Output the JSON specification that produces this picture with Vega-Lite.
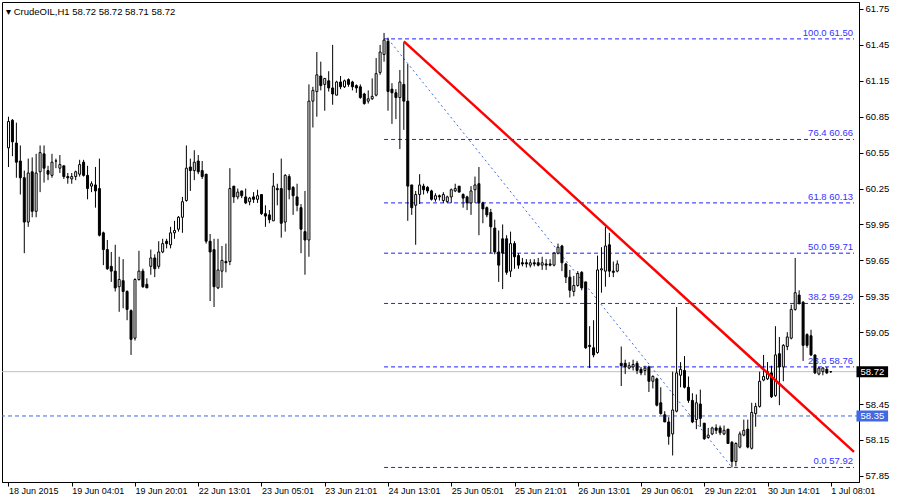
{
"$schema": "https://vega.github.io/schema/vega-lite/v6.json",
"width": 857, "height": 480,
"autosize": {"type": "none"},
"padding": {"left": 2, "top": 2, "right": 41, "bottom": 18},
"background": "white",
"title": {"text": "▾ CrudeOIL,H1  58.72 58.72 58.71 58.72", "anchor": "start", "frame": "group", "orient": "top", "offset": -22, "baseline": "alphabetic", "dx": 4, "font": "Liberation Sans", "fontSize": 9.5, "fontWeight": "normal", "color": "black"},
"datasets": {
"bars": [
{"i":0,"o":60.59,"h":60.85,"l":60.43,"c":60.81},{"i":1,"o":60.82,"h":60.83,"l":60.52,"c":60.64},{"i":2,"o":60.63,"h":60.80,"l":60.34,"c":60.47},{"i":3,"o":60.48,"h":60.61,"l":60.20,"c":60.34},{"i":4,"o":60.34,"h":60.40,"l":59.71,"c":59.97},{"i":5,"o":59.97,"h":60.50,"l":59.93,"c":60.38},{"i":6,"o":60.39,"h":60.51,"l":60.01,"c":60.06},{"i":7,"o":60.06,"h":60.54,"l":60.01,"c":60.38},{"i":8,"o":60.39,"h":60.61,"l":60.22,"c":60.55},{"i":9,"o":60.54,"h":60.61,"l":60.30,"c":60.42},
{"i":10,"o":60.40,"h":60.44,"l":60.32,"c":60.37},{"i":11,"o":60.36,"h":60.54,"l":60.34,"c":60.47},{"i":12,"o":60.48,"h":60.50,"l":60.42,"c":60.48},{"i":13,"o":60.42,"h":60.53,"l":60.38,"c":60.45},{"i":14,"o":60.44,"h":60.44,"l":60.33,"c":60.35},{"i":15,"o":60.35,"h":60.38,"l":60.29,"c":60.34},{"i":16,"o":60.33,"h":60.38,"l":60.29,"c":60.35},{"i":17,"o":60.35,"h":60.40,"l":60.32,"c":60.39},{"i":18,"o":60.37,"h":60.49,"l":60.35,"c":60.45},{"i":19,"o":60.47,"h":60.49,"l":60.35,"c":60.36},
{"i":20,"o":60.36,"h":60.44,"l":60.16,"c":60.25},{"i":21,"o":60.27,"h":60.31,"l":60.22,"c":60.29},{"i":22,"o":60.28,"h":60.43,"l":60.09,"c":60.23},{"i":23,"o":60.25,"h":60.50,"l":59.85,"c":59.86},{"i":24,"o":59.88,"h":59.89,"l":59.61,"c":59.74},{"i":25,"o":59.74,"h":59.82,"l":59.57,"c":59.58},{"i":26,"o":59.60,"h":59.72,"l":59.47,"c":59.56},{"i":27,"o":59.56,"h":59.78,"l":59.39,"c":59.42},{"i":28,"o":59.43,"h":59.68,"l":59.22,"c":59.49},{"i":29,"o":59.48,"h":59.66,"l":59.25,"c":59.39},
{"i":30,"o":59.39,"h":59.40,"l":59.15,"c":59.24},{"i":31,"o":59.23,"h":59.24,"l":58.86,"c":58.99},{"i":32,"o":59.00,"h":59.50,"l":58.98,"c":59.49},{"i":33,"o":59.49,"h":59.73,"l":59.48,"c":59.56},{"i":34,"o":59.56,"h":59.58,"l":59.42,"c":59.43},{"i":35,"o":59.45,"h":59.50,"l":59.42,"c":59.42},{"i":36,"o":59.60,"h":59.74,"l":59.53,"c":59.67},{"i":37,"o":59.67,"h":59.70,"l":59.51,"c":59.58},{"i":38,"o":59.60,"h":59.81,"l":59.58,"c":59.72},{"i":39,"o":59.72,"h":59.83,"l":59.71,"c":59.79},
{"i":40,"o":59.81,"h":59.83,"l":59.75,"c":59.79},{"i":41,"o":59.78,"h":59.93,"l":59.75,"c":59.88},{"i":42,"o":59.88,"h":59.98,"l":59.83,"c":59.90},{"i":43,"o":59.91,"h":60.02,"l":59.89,"c":60.01},{"i":44,"o":60.01,"h":60.18,"l":59.88,"c":60.14},{"i":45,"o":60.15,"h":60.61,"l":60.14,"c":60.42},{"i":46,"o":60.43,"h":60.50,"l":60.23,"c":60.40},{"i":47,"o":60.40,"h":60.57,"l":60.32,"c":60.47},{"i":48,"o":60.48,"h":60.53,"l":60.37,"c":60.39},{"i":49,"o":60.40,"h":60.48,"l":60.33,"c":60.35},
{"i":50,"o":60.37,"h":60.37,"l":59.79,"c":59.81},{"i":51,"o":59.81,"h":59.87,"l":59.31,"c":59.72},{"i":52,"o":59.74,"h":59.83,"l":59.26,"c":59.43},{"i":53,"o":59.42,"h":59.83,"l":59.41,"c":59.57},{"i":54,"o":59.56,"h":59.77,"l":59.42,"c":59.65},{"i":55,"o":59.64,"h":59.79,"l":59.55,"c":59.63},{"i":56,"o":59.64,"h":60.42,"l":59.61,"c":60.25},{"i":57,"o":60.27,"h":60.27,"l":60.13,"c":60.18},{"i":58,"o":60.18,"h":60.25,"l":60.16,"c":60.22},{"i":59,"o":60.23,"h":60.23,"l":60.17,"c":60.19},
{"i":60,"o":60.18,"h":60.25,"l":60.12,"c":60.13},{"i":61,"o":60.14,"h":60.18,"l":60.11,"c":60.17},{"i":62,"o":60.18,"h":60.22,"l":60.13,"c":60.16},{"i":63,"o":60.16,"h":60.24,"l":60.13,"c":60.19},{"i":64,"o":60.20,"h":60.20,"l":60.03,"c":60.04},{"i":65,"o":60.04,"h":60.11,"l":59.93,"c":60.02},{"i":66,"o":60.03,"h":60.07,"l":59.96,"c":59.99},{"i":67,"o":59.98,"h":60.38,"l":59.98,"c":60.27},{"i":68,"o":60.25,"h":60.29,"l":60.11,"c":60.24},{"i":69,"o":60.25,"h":60.50,"l":59.84,"c":59.96},
{"i":70,"o":59.97,"h":60.37,"l":59.89,"c":60.36},{"i":71,"o":60.35,"h":60.37,"l":60.16,"c":60.24},{"i":72,"o":60.26,"h":60.27,"l":60.03,"c":60.19},{"i":73,"o":60.18,"h":60.29,"l":60.06,"c":60.11},{"i":74,"o":60.09,"h":60.12,"l":59.71,"c":59.91},{"i":75,"o":59.89,"h":60.23,"l":59.53,"c":59.82},{"i":76,"o":59.82,"h":61.12,"l":59.68,"c":60.98},{"i":77,"o":60.98,"h":61.10,"l":60.76,"c":61.07},{"i":78,"o":61.06,"h":61.39,"l":60.85,"c":61.20},{"i":79,"o":61.19,"h":61.31,"l":61.07,"c":61.11},
{"i":80,"o":61.12,"h":61.17,"l":60.90,"c":61.17},{"i":81,"o":61.15,"h":61.23,"l":61.06,"c":61.09},{"i":82,"o":61.09,"h":61.45,"l":60.95,"c":61.04},{"i":83,"o":61.03,"h":61.15,"l":61.03,"c":61.14},{"i":84,"o":61.14,"h":61.19,"l":61.08,"c":61.10},{"i":85,"o":61.10,"h":61.16,"l":61.09,"c":61.15},{"i":86,"o":61.16,"h":61.17,"l":61.10,"c":61.12},{"i":87,"o":61.14,"h":61.15,"l":61.07,"c":61.10},{"i":88,"o":61.11,"h":61.12,"l":61.05,"c":61.09},{"i":89,"o":61.10,"h":61.12,"l":61.00,"c":61.01},
{"i":90,"o":61.04,"h":61.05,"l":60.95,"c":60.96},{"i":91,"o":60.98,"h":61.07,"l":60.96,"c":61.00},{"i":92,"o":61.00,"h":61.17,"l":60.99,"c":61.02},{"i":93,"o":61.03,"h":61.34,"l":61.02,"c":61.21},{"i":94,"o":61.22,"h":61.45,"l":61.20,"c":61.39},{"i":95,"o":61.37,"h":61.55,"l":61.31,"c":61.49},{"i":96,"o":61.48,"h":61.51,"l":60.90,"c":61.06},{"i":97,"o":61.08,"h":61.13,"l":60.79,"c":61.05},{"i":98,"o":61.05,"h":61.08,"l":60.83,"c":61.01},{"i":99,"o":61.01,"h":61.24,"l":60.58,"c":61.14},
{"i":100,"o":61.12,"h":61.47,"l":60.74,"c":60.98},{"i":101,"o":60.98,"h":61.29,"l":59.98,"c":60.27},{"i":102,"o":60.28,"h":60.28,"l":60.03,"c":60.09},{"i":103,"o":60.11,"h":60.23,"l":59.78,"c":60.20},{"i":104,"o":60.20,"h":60.37,"l":60.12,"c":60.28},{"i":105,"o":60.27,"h":60.29,"l":60.20,"c":60.24},{"i":106,"o":60.26,"h":60.27,"l":60.21,"c":60.23},{"i":107,"o":60.23,"h":60.24,"l":60.15,"c":60.16},{"i":108,"o":60.16,"h":60.21,"l":60.14,"c":60.19},{"i":109,"o":60.19,"h":60.20,"l":60.15,"c":60.18},
{"i":110,"o":60.15,"h":60.22,"l":60.13,"c":60.20},{"i":111,"o":60.14,"h":60.19,"l":60.13,"c":60.18},{"i":112,"o":60.18,"h":60.25,"l":60.13,"c":60.24},{"i":113,"o":60.23,"h":60.29,"l":60.22,"c":60.25},{"i":114,"o":60.27,"h":60.27,"l":60.22,"c":60.22},{"i":115,"o":60.20,"h":60.21,"l":60.09,"c":60.17},{"i":116,"o":60.18,"h":60.19,"l":60.07,"c":60.13},{"i":117,"o":60.13,"h":60.27,"l":60.03,"c":60.23},{"i":118,"o":60.24,"h":60.35,"l":60.13,"c":60.28},{"i":119,"o":60.29,"h":60.43,"l":59.86,"c":60.13},
{"i":120,"o":60.13,"h":60.14,"l":59.96,"c":60.08},{"i":121,"o":60.09,"h":60.10,"l":60.01,"c":60.03},{"i":122,"o":60.05,"h":60.08,"l":59.71,"c":59.93},{"i":123,"o":59.92,"h":59.99,"l":59.70,"c":59.72},{"i":124,"o":59.72,"h":59.90,"l":59.47,"c":59.61},{"i":125,"o":59.83,"h":59.95,"l":59.41,"c":59.71},{"i":126,"o":59.83,"h":59.86,"l":59.53,"c":59.55},{"i":127,"o":59.56,"h":59.89,"l":59.51,"c":59.79},{"i":128,"o":59.79,"h":59.81,"l":59.58,"c":59.68},{"i":129,"o":59.69,"h":59.71,"l":59.58,"c":59.61},
{"i":130,"o":59.63,"h":59.67,"l":59.60,"c":59.62},{"i":131,"o":59.63,"h":59.66,"l":59.59,"c":59.62},{"i":132,"o":59.61,"h":59.66,"l":59.59,"c":59.63},{"i":133,"o":59.63,"h":59.66,"l":59.60,"c":59.62},{"i":134,"o":59.63,"h":59.67,"l":59.60,"c":59.61},{"i":135,"o":59.61,"h":59.68,"l":59.57,"c":59.63},{"i":136,"o":59.62,"h":59.66,"l":59.57,"c":59.61},{"i":137,"o":59.62,"h":59.66,"l":59.60,"c":59.61},{"i":138,"o":59.61,"h":59.72,"l":59.60,"c":59.71},{"i":139,"o":59.71,"h":59.79,"l":59.70,"c":59.76},
{"i":140,"o":59.77,"h":59.78,"l":59.56,"c":59.63},{"i":141,"o":59.62,"h":59.63,"l":59.46,"c":59.51},{"i":142,"o":59.51,"h":59.57,"l":59.34,"c":59.40},{"i":143,"o":59.39,"h":59.52,"l":59.35,"c":59.44},{"i":144,"o":59.44,"h":59.56,"l":59.43,"c":59.54},{"i":145,"o":59.55,"h":59.56,"l":59.40,"c":59.42},{"i":146,"o":59.47,"h":59.47,"l":58.91,"c":58.92},{"i":147,"o":58.94,"h":59.10,"l":58.75,"c":58.93},{"i":148,"o":58.92,"h":59.15,"l":58.84,"c":58.86},{"i":149,"o":58.88,"h":59.69,"l":58.87,"c":59.57},
{"i":150,"o":59.57,"h":59.76,"l":59.38,"c":59.58},{"i":151,"o":59.56,"h":59.93,"l":59.43,"c":59.77},{"i":152,"o":59.78,"h":59.88,"l":59.51,"c":59.56},{"i":153,"o":59.56,"h":59.64,"l":59.51,"c":59.55},{"i":154,"o":59.56,"h":59.65,"l":59.55,"c":59.62},{"i":155,"o":58.79,"h":58.93,"l":58.60,"c":58.77},{"i":156,"o":58.79,"h":58.82,"l":58.70,"c":58.76},{"i":157,"o":58.75,"h":58.80,"l":58.74,"c":58.77},{"i":158,"o":58.76,"h":58.82,"l":58.73,"c":58.78},{"i":159,"o":58.79,"h":58.81,"l":58.70,"c":58.73},
{"i":160,"o":58.74,"h":58.76,"l":58.69,"c":58.71},{"i":161,"o":58.73,"h":58.77,"l":58.69,"c":58.75},{"i":162,"o":58.76,"h":58.77,"l":58.55,"c":58.64},{"i":163,"o":58.64,"h":58.69,"l":58.58,"c":58.68},{"i":164,"o":58.66,"h":58.67,"l":58.43,"c":58.44},{"i":165,"o":58.46,"h":58.59,"l":58.36,"c":58.37},{"i":166,"o":58.36,"h":58.39,"l":58.30,"c":58.30},{"i":167,"o":58.30,"h":58.34,"l":58.11,"c":58.18},{"i":168,"o":58.20,"h":58.72,"l":58.02,"c":58.40},{"i":169,"o":58.39,"h":59.26,"l":58.38,"c":58.71},
{"i":170,"o":58.69,"h":58.80,"l":58.59,"c":58.74},{"i":171,"o":58.73,"h":58.85,"l":58.58,"c":58.59},{"i":172,"o":58.59,"h":58.68,"l":58.46,"c":58.48},{"i":173,"o":58.48,"h":58.54,"l":58.29,"c":58.30},{"i":174,"o":58.32,"h":58.53,"l":58.24,"c":58.46},{"i":175,"o":58.45,"h":58.57,"l":58.26,"c":58.33},{"i":176,"o":58.29,"h":58.29,"l":58.15,"c":58.16},{"i":177,"o":58.17,"h":58.25,"l":58.16,"c":58.19},{"i":178,"o":58.20,"h":58.26,"l":58.19,"c":58.25},{"i":179,"o":58.25,"h":58.28,"l":58.20,"c":58.23},
{"i":180,"o":58.25,"h":58.27,"l":58.19,"c":58.21},{"i":181,"o":58.20,"h":58.27,"l":58.19,"c":58.23},{"i":182,"o":58.24,"h":58.24,"l":58.12,"c":58.12},{"i":183,"o":58.13,"h":58.14,"l":57.92,"c":57.97},{"i":184,"o":57.97,"h":58.13,"l":57.93,"c":58.12},{"i":185,"o":58.09,"h":58.22,"l":58.08,"c":58.20},{"i":186,"o":58.19,"h":58.32,"l":58.18,"c":58.23},{"i":187,"o":58.24,"h":58.32,"l":58.08,"c":58.09},{"i":188,"o":58.08,"h":58.46,"l":58.07,"c":58.38},{"i":189,"o":58.37,"h":58.46,"l":58.26,"c":58.43},
{"i":190,"o":58.43,"h":58.72,"l":58.42,"c":58.64},{"i":191,"o":58.65,"h":58.86,"l":58.64,"c":58.68},{"i":192,"o":58.66,"h":58.80,"l":58.65,"c":58.72},{"i":193,"o":58.71,"h":58.77,"l":58.50,"c":58.51},{"i":194,"o":58.52,"h":59.10,"l":58.51,"c":58.86},{"i":195,"o":58.87,"h":59.01,"l":58.44,"c":58.76},{"i":196,"o":58.76,"h":58.95,"l":58.64,"c":58.94},{"i":197,"o":58.93,"h":59.05,"l":58.90,"c":59.01},{"i":198,"o":59.00,"h":59.28,"l":58.99,"c":59.24},{"i":199,"o":59.24,"h":59.67,"l":59.23,"c":59.38},
{"i":200,"o":59.36,"h":59.40,"l":59.28,"c":59.29},{"i":201,"o":59.30,"h":59.31,"l":58.81,"c":58.94},{"i":202,"o":59.03,"h":59.04,"l":58.92,"c":58.94},{"i":203,"o":59.02,"h":59.07,"l":58.85,"c":58.86},{"i":204,"o":58.86,"h":58.86,"l":58.70,"c":58.71},{"i":205,"o":58.70,"h":58.76,"l":58.69,"c":58.75},{"i":206,"o":58.72,"h":58.76,"l":58.69,"c":58.75},{"i":207,"o":58.74,"h":58.76,"l":58.70,"c":58.71},{"i":208,"o":58.72,"h":58.72,"l":58.71,"c":58.72}
],
"fib": [
{"level":"100.0","price":61.50,"label":"100.0 61.50"},
{"level":"76.4","price":60.66,"label":"76.4 60.66"},
{"level":"61.8","price":60.13,"label":"61.8 60.13"},
{"level":"50.0","price":59.71,"label":"50.0 59.71"},
{"level":"38.2","price":59.29,"label":"38.2 59.29"},
{"level":"23.6","price":58.76,"label":"23.6 58.76"},
{"level":"0.0","price":57.92,"label":"0.0 57.92"}
],
"fibdiag": [{"i":96,"p":61.50},{"i":183,"p":57.92}],
"trend": [{"i":100,"p":61.48},{"i":213.875,"p":58.05}],
"bid": [{"price":58.72}],
"support": [{"price":58.35}],
"tags": [{"price":58.72,"label":"58.72"},{"price":58.35,"label":"58.35"}]
},
"layer": [
{"data":{"name":"bid"},"mark":{"type":"rule","color":"#c0c0c0","strokeWidth":1},
 "encoding":{"y":{"field":"price","type":"quantitative","scale":{"domain":[57.7984,61.8083],"nice":false,"zero":false},"axis":{"orient":"right","values":[57.85,58.15,58.45,59.05,59.35,59.65,59.95,60.25,60.55,60.85,61.15,61.45,61.75],"format":".2f","title":null,"labelPadding":2}}}},
{"data":{"name":"support"},"mark":{"type":"rule","color":"#4169E1","strokeWidth":1,"strokeDash":[4,3]},
 "encoding":{"y":{"field":"price","type":"quantitative","scale":{"domain":[57.7984,61.8083],"nice":false,"zero":false},"axis":{"orient":"right","values":[57.85,58.15,58.45,59.05,59.35,59.65,59.95,60.25,60.55,60.85,61.15,61.45,61.75],"format":".2f","title":null,"labelPadding":2}}}},
{"data":{"name":"fib"},"mark":{"type":"rule","color":"#1f1fff","strokeWidth":1,"strokeDash":[4,3]},
 "encoding":{
  "x":{"datum":95,"type":"quantitative","scale":{"domain":[-0.375,213.875],"nice":false,"zero":false},"axis":{"values":[0,16,32,48,64,80,96,112,128,144,160,176,192,208],"labelExpr":"['18 Jun 2015','19 Jun 04:01','19 Jun 20:01','22 Jun 13:01','23 Jun 05:01','23 Jun 21:01','24 Jun 13:01','25 Jun 05:01','25 Jun 21:01','26 Jun 13:01','29 Jun 06:01','29 Jun 22:01','30 Jun 14:01','1 Jul 08:01'][round(datum.value/16)]","title":null,"labelAlign":"left","labelPadding":0,"labelFontSize":9}},
  "x2":{"datum":213.875},
  "y":{"field":"price","type":"quantitative","scale":{"domain":[57.7984,61.8083],"nice":false,"zero":false},"axis":{"orient":"right","values":[57.85,58.15,58.45,59.05,59.35,59.65,59.95,60.25,60.55,60.85,61.15,61.45,61.75],"format":".2f","title":null,"labelPadding":2}}}},
{"data":{"name":"fib"},"mark":{"type":"text","align":"right","baseline":"alphabetic","dx":-1,"dy":-3,"font":"Liberation Sans","fontSize":9.5,"color":"#3333ff"},
 "encoding":{
  "x":{"datum":213.875,"type":"quantitative","scale":{"domain":[-0.375,213.875],"nice":false,"zero":false},"axis":{"values":[0,16,32,48,64,80,96,112,128,144,160,176,192,208],"labelExpr":"['18 Jun 2015','19 Jun 04:01','19 Jun 20:01','22 Jun 13:01','23 Jun 05:01','23 Jun 21:01','24 Jun 13:01','25 Jun 05:01','25 Jun 21:01','26 Jun 13:01','29 Jun 06:01','29 Jun 22:01','30 Jun 14:01','1 Jul 08:01'][round(datum.value/16)]","title":null,"labelAlign":"left","labelPadding":0,"labelFontSize":9}},
  "y":{"field":"price","type":"quantitative","scale":{"domain":[57.7984,61.8083],"nice":false,"zero":false},"axis":{"orient":"right","values":[57.85,58.15,58.45,59.05,59.35,59.65,59.95,60.25,60.55,60.85,61.15,61.45,61.75],"format":".2f","title":null,"labelPadding":2}},
  "text":{"field":"label"}}},
{"data":{"name":"fibdiag"},"mark":{"type":"line","color":"#4169E1","strokeWidth":1,"strokeDash":[2,3]},
 "encoding":{
  "x":{"field":"i","type":"quantitative","scale":{"domain":[-0.375,213.875],"nice":false,"zero":false},"axis":{"values":[0,16,32,48,64,80,96,112,128,144,160,176,192,208],"labelExpr":"['18 Jun 2015','19 Jun 04:01','19 Jun 20:01','22 Jun 13:01','23 Jun 05:01','23 Jun 21:01','24 Jun 13:01','25 Jun 05:01','25 Jun 21:01','26 Jun 13:01','29 Jun 06:01','29 Jun 22:01','30 Jun 14:01','1 Jul 08:01'][round(datum.value/16)]","title":null,"labelAlign":"left","labelPadding":0,"labelFontSize":9}},
  "y":{"field":"p","type":"quantitative","scale":{"domain":[57.7984,61.8083],"nice":false,"zero":false},"axis":{"orient":"right","values":[57.85,58.15,58.45,59.05,59.35,59.65,59.95,60.25,60.55,60.85,61.15,61.45,61.75],"format":".2f","title":null,"labelPadding":2}}}},
{"data":{"name":"bars"},"mark":{"type":"rule","color":"black","strokeWidth":1},
 "encoding":{
  "x":{"field":"i","type":"quantitative","scale":{"domain":[-0.375,213.875],"nice":false,"zero":false},"axis":{"values":[0,16,32,48,64,80,96,112,128,144,160,176,192,208],"labelExpr":"['18 Jun 2015','19 Jun 04:01','19 Jun 20:01','22 Jun 13:01','23 Jun 05:01','23 Jun 21:01','24 Jun 13:01','25 Jun 05:01','25 Jun 21:01','26 Jun 13:01','29 Jun 06:01','29 Jun 22:01','30 Jun 14:01','1 Jul 08:01'][round(datum.value/16)]","title":null,"labelAlign":"left","labelPadding":0,"labelFontSize":9}},
  "y":{"field":"l","type":"quantitative","scale":{"domain":[57.7984,61.8083],"nice":false,"zero":false},"axis":{"orient":"right","values":[57.85,58.15,58.45,59.05,59.35,59.65,59.95,60.25,60.55,60.85,61.15,61.45,61.75],"format":".2f","title":null,"labelPadding":2}},
  "y2":{"field":"h"}}},
{"data":{"name":"bars"},"mark":{"type":"bar","width":2,"stroke":"black","strokeWidth":1},
 "encoding":{
  "x":{"field":"i","type":"quantitative","scale":{"domain":[-0.375,213.875],"nice":false,"zero":false},"axis":{"values":[0,16,32,48,64,80,96,112,128,144,160,176,192,208],"labelExpr":"['18 Jun 2015','19 Jun 04:01','19 Jun 20:01','22 Jun 13:01','23 Jun 05:01','23 Jun 21:01','24 Jun 13:01','25 Jun 05:01','25 Jun 21:01','26 Jun 13:01','29 Jun 06:01','29 Jun 22:01','30 Jun 14:01','1 Jul 08:01'][round(datum.value/16)]","title":null,"labelAlign":"left","labelPadding":0,"labelFontSize":9}},
  "y":{"field":"o","type":"quantitative","scale":{"domain":[57.7984,61.8083],"nice":false,"zero":false},"axis":{"orient":"right","values":[57.85,58.15,58.45,59.05,59.35,59.65,59.95,60.25,60.55,60.85,61.15,61.45,61.75],"format":".2f","title":null,"labelPadding":2}},
  "y2":{"field":"c"},
  "fill":{"condition":{"test":"datum.c >= datum.o","value":"white"},"value":"black"}}},
{"data":{"name":"trend"},"mark":{"type":"line","color":"#ff0000","strokeWidth":2.5},
 "encoding":{
  "x":{"field":"i","type":"quantitative","scale":{"domain":[-0.375,213.875],"nice":false,"zero":false},"axis":{"values":[0,16,32,48,64,80,96,112,128,144,160,176,192,208],"labelExpr":"['18 Jun 2015','19 Jun 04:01','19 Jun 20:01','22 Jun 13:01','23 Jun 05:01','23 Jun 21:01','24 Jun 13:01','25 Jun 05:01','25 Jun 21:01','26 Jun 13:01','29 Jun 06:01','29 Jun 22:01','30 Jun 14:01','1 Jul 08:01'][round(datum.value/16)]","title":null,"labelAlign":"left","labelPadding":0,"labelFontSize":9}},
  "y":{"field":"p","type":"quantitative","scale":{"domain":[57.7984,61.8083],"nice":false,"zero":false},"axis":{"orient":"right","values":[57.85,58.15,58.45,59.05,59.35,59.65,59.95,60.25,60.55,60.85,61.15,61.45,61.75],"format":".2f","title":null,"labelPadding":2}}}},
{"data":{"name":"tags"},"mark":{"type":"rule","strokeWidth":11},
 "encoding":{
  "x":{"datum":214.5,"type":"quantitative","scale":{"domain":[-0.375,213.875],"nice":false,"zero":false},"axis":{"values":[0,16,32,48,64,80,96,112,128,144,160,176,192,208],"labelExpr":"['18 Jun 2015','19 Jun 04:01','19 Jun 20:01','22 Jun 13:01','23 Jun 05:01','23 Jun 21:01','24 Jun 13:01','25 Jun 05:01','25 Jun 21:01','26 Jun 13:01','29 Jun 06:01','29 Jun 22:01','30 Jun 14:01','1 Jul 08:01'][round(datum.value/16)]","title":null,"labelAlign":"left","labelPadding":0,"labelFontSize":9}},
  "x2":{"datum":222.5},
  "y":{"field":"price","type":"quantitative","scale":{"domain":[57.7984,61.8083],"nice":false,"zero":false},"axis":{"orient":"right","values":[57.85,58.15,58.45,59.05,59.35,59.65,59.95,60.25,60.55,60.85,61.15,61.45,61.75],"format":".2f","title":null,"labelPadding":2}},
  "stroke":{"condition":{"test":"datum.price > 58.5","value":"black"},"value":"#4169E1"}}},
{"data":{"name":"tags"},"mark":{"type":"text","align":"left","baseline":"middle","dx":4,"font":"Liberation Sans","fontSize":9.5,"color":"white"},
 "encoding":{
  "x":{"datum":214.5,"type":"quantitative","scale":{"domain":[-0.375,213.875],"nice":false,"zero":false},"axis":{"values":[0,16,32,48,64,80,96,112,128,144,160,176,192,208],"labelExpr":"['18 Jun 2015','19 Jun 04:01','19 Jun 20:01','22 Jun 13:01','23 Jun 05:01','23 Jun 21:01','24 Jun 13:01','25 Jun 05:01','25 Jun 21:01','26 Jun 13:01','29 Jun 06:01','29 Jun 22:01','30 Jun 14:01','1 Jul 08:01'][round(datum.value/16)]","title":null,"labelAlign":"left","labelPadding":0,"labelFontSize":9}},
  "y":{"field":"price","type":"quantitative","scale":{"domain":[57.7984,61.8083],"nice":false,"zero":false},"axis":{"orient":"right","values":[57.85,58.15,58.45,59.05,59.35,59.65,59.95,60.25,60.55,60.85,61.15,61.45,61.75],"format":".2f","title":null,"labelPadding":2}},
  "text":{"field":"label"}}}
],
"config": {
 "view": {"stroke": "black", "strokeWidth": 1},
 "axis": {"grid": false, "domainColor": "black", "tickColor": "black", "labelColor": "black", "labelFont": "Liberation Sans", "labelFontSize": 9.5, "tickSize": 4, "labelFlush": false, "labelOverlap": false, "labelBound": false}
}
}
